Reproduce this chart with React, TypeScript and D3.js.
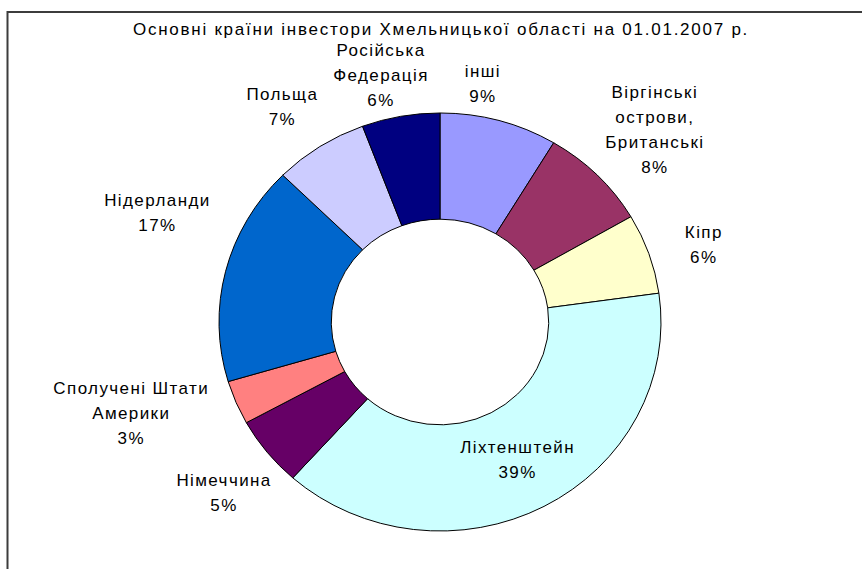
import React from "react";
import * as d3 from "d3";

const title = "Основні країни інвестори Хмельницької області на 01.01.2007 р.";
const categories = [
  "інші",
  "Віргінські острови, Британські",
  "Кіпр",
  "Ліхтенштейн",
  "Німеччина",
  "Сполучені Штати Америки",
  "Нідерланди",
  "Польща",
  "Російська Федерація",
];
const labelLines = [
  ["інші"],
  ["Віргінські", "острови,", "Британські"],
  ["Кіпр"],
  ["Ліхтенштейн"],
  ["Німеччина"],
  ["Сполучені Штати", "Америки"],
  ["Нідерланди"],
  ["Польща"],
  ["Російська", "Федерація"],
];
const values = [8.6, 8.0, 6.2, 38.8, 5.4, 3.4, 17.0, 6.9, 5.7];
const colors = [
  "#9999FF",
  "#993366",
  "#FFFFCC",
  "#CCFFFF",
  "#660066",
  "#FF8080",
  "#0066CC",
  "#CCCCFF",
  "#000080",
];

// layout
const W = 862;
const H = 569;
const CX = 440;
const CY = 322;
const RX = 221;
const RY = 209;
const INNER = 0.492;
const LABEL_K = 1.22;
// label nudges [dx, dy] from the anchor on the label ellipse; null => inside (centroid)
const labelNudge: ([number, number] | null)[] = [
  [-29, 8],
  [23, -13],
  [9, 6],
  null,
  [-5, 12],
  [-60, -7],
  [-21, -47],
  [-11, -1],
  [-11, 4],
];
const LINE_H = 25;
const FONT = "'Liberation Sans', Arial, sans-serif";

export default function App() {
  const data = categories.map((c, i) => ({ c, v: values[i], i }));
  const pie = d3
    .pie<any>()
    .sort(null)
    .value((d) => d.v)
    .startAngle(0)
    .endAngle(2 * Math.PI);
  const arcs = pie(data);
  const arc = d3
    .arc<any>()
    .innerRadius(RX * INNER)
    .outerRadius(RX);

  const labels = arcs.map((a) => {
    const mid = (a.startAngle + a.endAngle) / 2;
    const nudge = labelNudge[a.index];
    let x: number, y: number;
    if (nudge) {
      x = CX + LABEL_K * RX * Math.sin(mid) + nudge[0];
      y = CY - LABEL_K * RY * Math.cos(mid) + nudge[1];
    } else {
      const k = (1 + INNER) / 2;
      x = CX + k * RX * Math.sin(mid);
      y = CY - k * RY * Math.cos(mid);
    }
    const lines = [...labelLines[a.index], `${Math.round(a.data.v)}%`];
    return { x, y, lines, i: a.index };
  });

  return (
    <svg
      width={W}
      height={H}
      style={{ position: "absolute", left: 0, top: 0, background: "#fff" }}
    >
      <rect x={0} y={0} width={W} height={H} fill="#fff" />
      <rect
        x={7.5}
        y={12}
        width={W + 40}
        height={H + 40}
        fill="none"
        stroke="#3c3c3c"
        strokeWidth={2}
      />
      <text
        x={CX + 1}
        y={29}
        textAnchor="middle"
        dominantBaseline="central"
        fontFamily={FONT}
        fontSize={17}
        letterSpacing={1.75}
        fill="#000"
      >
        {title}
      </text>
      <g transform={`translate(${CX},${CY}) scale(1,${RY / RX})`}>
        {arcs.map((a) => (
          <path
            key={a.index}
            d={arc(a) as string}
            fill={colors[a.index]}
            stroke="#000"
            strokeWidth={1}
            vectorEffect="non-scaling-stroke"
          />
        ))}
      </g>
      {labels.map((l) => (
        <text
          key={l.i}
          textAnchor="middle"
          fontFamily={FONT}
          fontSize={17}
          letterSpacing={1.4}
          fill="#000"
        >
          {l.lines.map((t, j) => (
            <tspan
              key={j}
              x={l.x}
              y={l.y + (j - (l.lines.length - 1) / 2) * LINE_H}
              dominantBaseline="central"
            >
              {t}
            </tspan>
          ))}
        </text>
      ))}
    </svg>
  );
}
